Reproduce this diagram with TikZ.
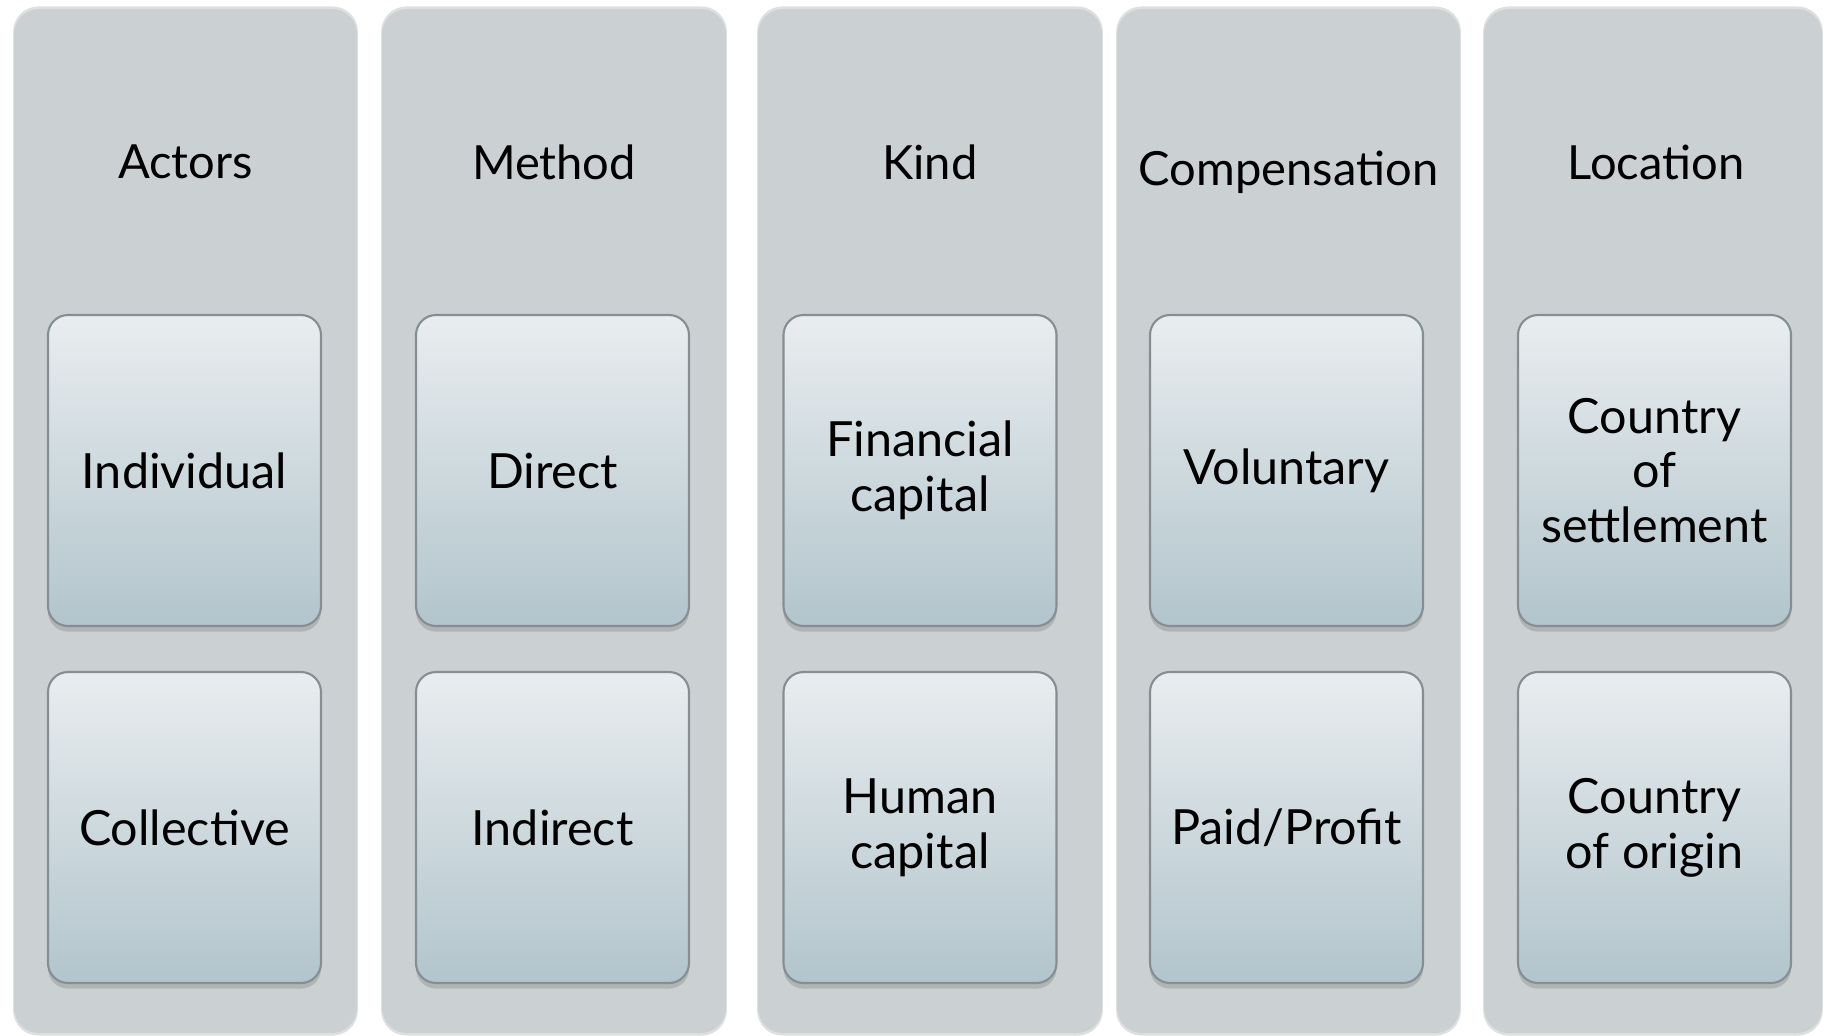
\documentclass[tikz,border=0pt]{standalone}
\usepackage{fontspec}
\setmainfont{Lato}
\usetikzlibrary{shadows}

\definecolor{lanegray}{HTML}{CBD1D2}
\definecolor{cardtop}{HTML}{E9EDEF}
\definecolor{cardbottom}{HTML}{B2C5CC}
\definecolor{cardedge}{HTML}{858E92}

\tikzset{
    lane/.style={fill=lanegray, rounded corners=0.25cm,
        drop shadow={shadow xshift=0pt, shadow yshift=0pt, opacity=0.25, shadow scale=1.005}},
    head/.style={font=\fontsize{13.4}{15}\selectfont, inner sep=0pt},
    card/.style={draw=cardedge, line width=0.6pt, rounded corners=0.2cm,
        top color=cardtop, bottom color=cardbottom,
        minimum width=2.73cm, minimum height=3.11cm, inner sep=0pt,
        align=center, font=\fontsize{13.8}{15.6}\selectfont,
        drop shadow={shadow xshift=0pt, shadow yshift=-1.6pt, opacity=0.35}},
}

\begin{document}
\begin{tikzpicture}
        \useasboundingbox (0,0) rectangle (18.24,-10.35);

        % the five grey lanes
        \path[lane] (0.14,-0.09) rectangle (3.57,-10.33);
        \path[lane] (3.82,-0.09) rectangle (7.26,-10.33);
        \path[lane] (7.58,-0.09) rectangle (11.02,-10.33);
        \path[lane] (11.17,-0.09) rectangle (14.60,-10.33);
        \path[lane] (14.84,-0.09) rectangle (18.22,-10.33);

        % lane headings
        \node[head] (actors) at (1.855,-1.62) {Actors};
        \node[head] (method) at (5.54,-1.62) {Method};
        \node[head] (kind) at (9.30,-1.62) {Kind};
        \node[head] (compensation) at (12.885,-1.72) {Compensation};
        \node[head] (location) at (16.56,-1.62) {Location};

        % cards, upper row
        \node[card] (individual) at (1.845,-4.705) {Individual};
        \node[card] (direct) at (5.525,-4.705) {Direct};
        \node[card] (financial) at (9.20,-4.705) {Financial\\capital};
        \node[card] (voluntary) at (12.865,-4.705) {Voluntary};
        \node[card] (settlement) at (16.545,-4.705) {Country\\of\\settlement};

        % cards, lower row
        \node[card] (collective) at (1.845,-8.275) {Collective};
        \node[card] (indirect) at (5.525,-8.275) {Indirect};
        \node[card] (human) at (9.20,-8.275) {Human\\capital};
        \node[card] (paid) at (12.865,-8.275) {Paid/Profit};
        \node[card] (origin) at (16.545,-8.275) {Country\\of origin};
    \end{tikzpicture}
\end{document}
